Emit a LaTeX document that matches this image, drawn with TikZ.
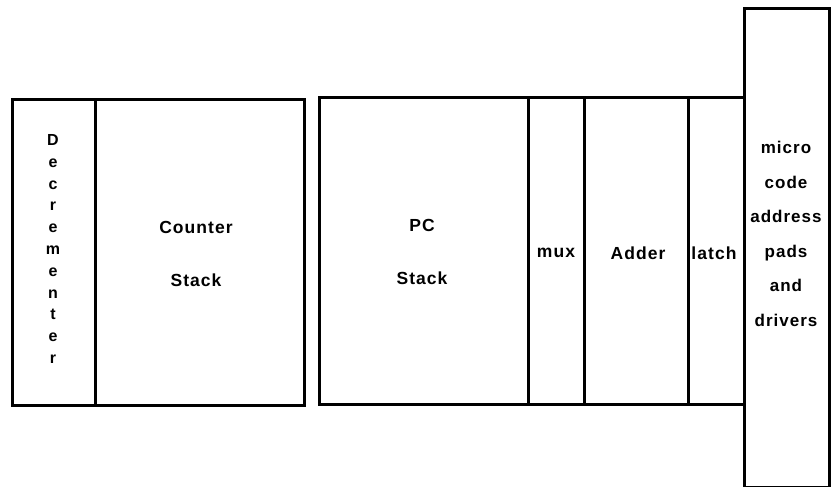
\documentclass[tikz,border=0pt]{standalone}
\usepackage{fontspec}
\setmainfont{Liberation Sans}[LetterSpace=6]
\begin{document}
\begin{tikzpicture}[x=1pt,y=-1pt,
  cell/.style={draw=black,line width=2.8pt,inner sep=0pt,anchor=north west,fill=none},
  lbl/.style={align=center,inner sep=0pt,font=\bfseries\fontsize{17.5}{53}\selectfont}]
\useasboundingbox (0,0) rectangle (831,487);
% left block
\node[cell,minimum width=83pt,minimum height=306pt] (dec) at (11,98) {};
\node[cell,minimum width=209pt,minimum height=306pt] (cnt) at (94,98) {};
% middle block
\node[cell,minimum width=209pt,minimum height=307pt] (pcs) at (318,96) {};
\node[cell,minimum width=56pt,minimum height=307pt] (mux) at (527,96) {};
\node[cell,minimum width=104pt,minimum height=307pt] (add) at (583,96) {};
\node[cell,minimum width=56pt,minimum height=307pt] (lat) at (687,96) {};
% right tall block
\node[cell,minimum width=85pt,minimum height=479pt] (mic) at (743,7) {};
% labels
\node[lbl,font=\bfseries\fontsize{16}{21.8}\selectfont] (dectxt) at (53,249) {D\\e\\c\\r\\e\\m\\e\\n\\t\\e\\r};
\node[lbl] (cnttxt) at (196,254) {Counter\\Stack};
\node[lbl] (pcstxt) at (422,252) {PC\\Stack};
\node[lbl] (muxtxt) at (556,253) {mux};
\node[lbl] (addtxt) at (638,253) {Adder};
\node[lbl] (lattxt) at (714,253) {latch};
\node[lbl,font=\bfseries\fontsize{17}{34.5}\selectfont] (mictxt) at (786,234) {micro\\code\\address\\pads\\and\\drivers};
\end{tikzpicture}
\end{document}
